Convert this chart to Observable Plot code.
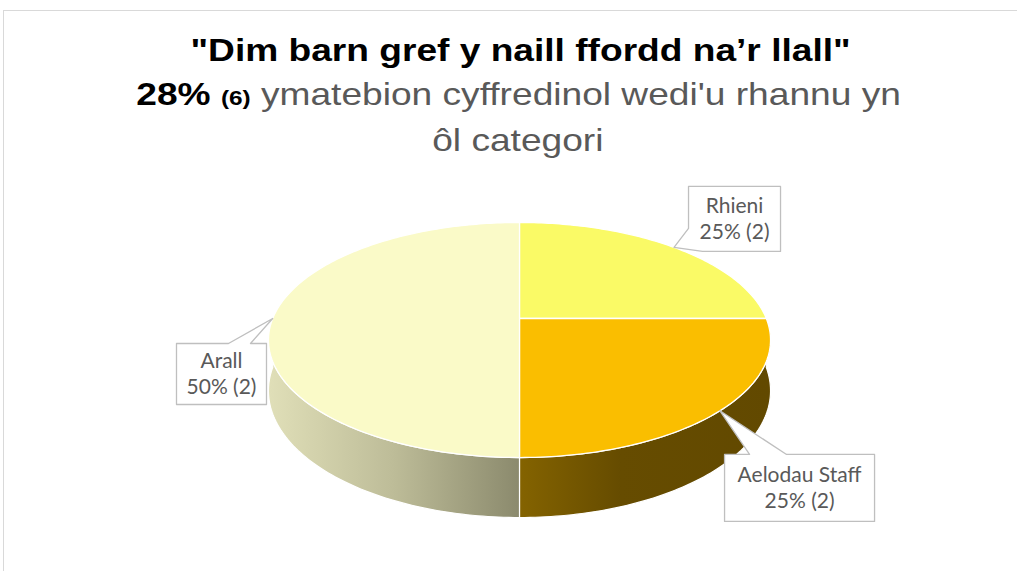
<!DOCTYPE html>
<html>
<head>
<meta charset="utf-8">
<script src="https://cdn.jsdelivr.net/npm/d3@7"></script>
<script src="https://cdn.jsdelivr.net/npm/@observablehq/plot@0.6"></script>
<style>
  body { margin: 0; background: #fff; }
  #wrap { position: relative; width: 1017px; height: 571px; overflow: hidden; background: #fff; }
  #frame { position: absolute; left: 3px; top: 10px; width: 1100px; height: 700px; border: 1px solid #d9d9d9; box-sizing: border-box; }
  #chart { position: absolute; left: 0; top: 0; }
  .t { position: absolute; text-align: center; white-space: nowrap; font-family: "Liberation Sans", Arial, sans-serif; font-size: 32px; line-height: 32px; }
  .t .inner { display: inline-block; transform: scaleX(1.16); transform-origin: center; }
  #title { left: 0; width: 1042px; top: 34px; font-weight: bold; color: #000; }
  #sub1 { left: 0; width: 1037px; top: 78px; color: #595959; }
  #sub2 { left: 0; width: 1035px; top: 124px; color: #595959; }
  .b { font-weight: bold; color: #000; }
  .s { font-size: 21px; }
</style>
</head>
<body>
<div id="wrap">
  <div id="frame"></div>
  <div id="chart"></div>
  <div class="t" id="title"><span class="inner">"Dim barn gref y naill ffordd na’r llall"</span></div>
  <div class="t" id="sub1"><span class="inner"><span class="b">28%</span> <span class="b s">(6)</span> ymatebion cyffredinol wedi'u rhannu yn</span></div>
  <div class="t" id="sub2"><span class="inner">ôl categori</span></div>
</div>
<script>
// ---- data ----
const categories = ["Rhieni", "Aelodau Staff", "Arall"];
const percentages = [25, 25, 50];
const counts = [2, 2, 2];

// ---- styles ----
const topColors = ["#FAFA66", "#FABE00", "#FAFAC8"];
const sideStops = [
  [[0, "#a9a93c"], [1, "#6f6f22"]],
  [[0, "#846300"], [0.4, "#664c00"], [1, "#624900"]],
  [[0, "#E0DFB8"], [0.5, "#BDBC98"], [1, "#8B8A6D"]]
];

// ---- layout (3D pie projection) ----
const W = 1017, H = 571;
const geo = {cx: 519, cy: 318, rx: 246.8, ry: 113.6, k: 0.183, depth: 49};
function project(angleDeg, h) {
  const a = angleDeg * Math.PI / 180;
  const u = Math.sin(a), v = -Math.cos(a);
  const s = 1 / (1 - geo.k * v);
  return {x: geo.cx + geo.rx * u * s, y: geo.cy + geo.ry * v * s + h * geo.depth * s};
}
const callouts = [
  {dx: 14.5, dy: -61, w: 92, h: 65, outline: [[0,0],[92,0],[92,65],[14,65],"tip",[0,42],[0,0]]},
  {dx: 4.6, dy: 43.7, w: 150, h: 67, outline: [[0,0],[25,0],"tip",[62,0],[150,0],[150,67],[0,67],[0,0]]},
  {dx: -96.2, dy: 25, w: 90, h: 61, outline: [[0,0],[52,0],"tip",[74,0],[90,0],[90,61],[0,61],[0,0]]}
];

// slice angles
const total = d3.sum(percentages);
let acc = 0;
const slices = categories.map((c, i) => {
  const a0 = acc / total * 360;
  acc += percentages[i];
  const a1 = acc / total * 360;
  return {name: c, i, a0, a1, mid: (a0 + a1) / 2};
});

const marks = [];
// sides (front half only: 90..270 deg)
for (const s of slices) {
  const lo = Math.max(s.a0, 90), hi = Math.min(s.a1, 270);
  if (hi <= lo) continue;
  const pts = [];
  for (const a of d3.range(lo, hi, 1).concat([hi])) pts.push(project(a, 0));
  for (const a of d3.range(hi, lo, -1).concat([lo])) pts.push(project(a, 1));
  pts.push(pts[0]);
  marks.push(Plot.line(pts, {x: "x", y: "y", fill: `url(#side${s.i})`, stroke: "white", strokeWidth: 1.2, curve: "linear"}));
}
// top faces
for (const s of slices) {
  const c = {x: geo.cx, y: geo.cy};
  const pts = [c];
  for (const a of d3.range(s.a0, s.a1, 1).concat([s.a1])) pts.push(project(a, 0));
  pts.push(c);
  marks.push(Plot.line(pts, {x: "x", y: "y", fill: topColors[s.i], stroke: "white", strokeWidth: 1.3, strokeLinejoin: "round"}));
}
// callouts
const labels = [];
for (const s of slices) {
  const tip = project(s.mid, 0);
  const L = callouts[s.i];
  const bx = tip.x + L.dx, by = tip.y + L.dy;
  const pts = L.outline.map(p => p === "tip" ? tip : {x: bx + p[0], y: by + p[1]});
  marks.push(Plot.line(pts, {x: "x", y: "y", fill: "white", stroke: "#bfbfbf", strokeWidth: 1.3}));
  labels.push({x: bx + L.w / 2, y: by + L.h / 2 - 1, text: `${s.name}\n${percentages[s.i]}% (${counts[s.i]})`});
}
marks.push(Plot.text(labels, {x: "x", y: "y", text: "text", fill: "#595959", fontSize: 21, fontFamily: "Lato, sans-serif", lineHeight: 1.2, textAnchor: "middle"}));

const svg = Plot.plot({
  width: W, height: H,
  margin: 0,
  x: {domain: [0, W], range: [0, W], axis: null},
  y: {domain: [0, H], range: [0, H], axis: null},
  style: {background: "transparent", overflow: "visible"},
  marks
});
const defs = d3.select(svg).insert("defs", ":first-child");
sideStops.forEach((stops, i) => {
  const g = defs.append("linearGradient").attr("id", `side${i}`).attr("x1", 0).attr("x2", 1).attr("y1", 0).attr("y2", 0);
  for (const [o, c] of stops) g.append("stop").attr("offset", o).attr("stop-color", c);
});
document.getElementById("chart").appendChild(svg);
</script>
</body>
</html>
